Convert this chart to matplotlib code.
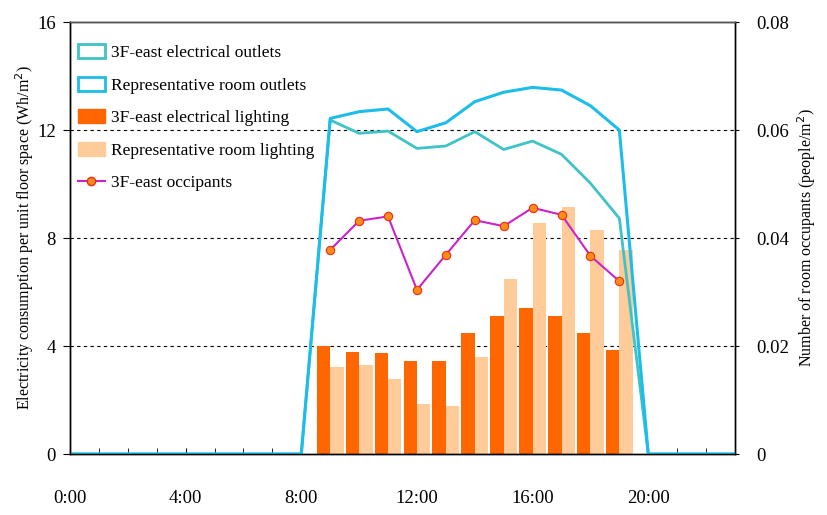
import numpy as np
import matplotlib.pyplot as plt
from matplotlib.patches import Patch
from matplotlib.lines import Line2D

plt.rcParams['font.family'] = ['Liberation Serif', 'DejaVu Serif']

# === Datos ===
horas = np.arange(24)                      # 0:00 .. 23:00
horas_ocup = np.arange(9, 20)              # 9:00 .. 19:00

enchufes_3f = [0, 0, 0, 0, 0, 0, 0, 0, 0, 12.37, 11.88, 11.96, 11.32, 11.41,
               11.94, 11.28, 11.59, 11.10, 10.03, 8.73, 0, 0, 0, 0]
enchufes_rep = [0, 0, 0, 0, 0, 0, 0, 0, 0, 12.43, 12.68, 12.78, 11.94, 12.27,
                13.05, 13.40, 13.58, 13.48, 12.90, 12.00, 0, 0, 0, 0]
luz_3f = [4.00, 3.78, 3.73, 3.44, 3.44, 4.49, 5.11, 5.41, 5.11, 4.49, 3.85]
luz_rep = [3.23, 3.30, 2.78, 1.85, 1.78, 3.60, 6.48, 8.56, 9.15, 8.30, 7.56]
ocupantes = [0.0378, 0.0432, 0.0440, 0.0304, 0.0369, 0.0433, 0.0422, 0.0456,
             0.0443, 0.0367, 0.0320]

etiquetas_x = ['0:00', '4:00', '8:00', '12:00', '16:00', '20:00']

c_3f = '#3EC3C6'
c_rep = '#1DBDE9'
c_naranja = '#FF6600'
c_melocoton = '#FFCC99'
c_ocup = '#CC22CC'

fig = plt.figure(figsize=(8.28, 5.15), dpi=100)
ax = fig.add_axes([0.0845, 0.1184, 0.8032, 0.8388])
ax2 = ax.twinx()

# barras (naranja a la izquierda de la hora, melocoton a la derecha)
ancho = 0.465
ax.bar(horas_ocup - ancho, luz_3f, width=ancho, align='edge', color=c_naranja, zorder=2)
ax.bar(horas_ocup, luz_rep, width=ancho, align='edge', color=c_melocoton, zorder=2)

ax.plot(horas, enchufes_3f, color=c_3f, lw=2.0, zorder=3)
ax.plot(horas, enchufes_rep, color=c_rep, lw=2.2, zorder=3)

ax2.plot(horas_ocup, ocupantes, color=c_ocup, lw=1.5, marker='o', markersize=6,
         markerfacecolor='#FF8C1A', markeredgecolor='#E83010', markeredgewidth=0.8)

ax.set_xlim(0, 23)
ax.set_ylim(0, 16)
ax2.set_ylim(0, 0.08)

ax.set_yticks([0, 4, 8, 12, 16])
ax.set_yticklabels(['0', '4', '8', '12', '16'], fontsize=13.5)
ax2.set_yticks([0, 0.02, 0.04, 0.06, 0.08])
ax2.set_yticklabels(['0', '0.02', '0.04', '0.06', '0.08'], fontsize=13.5)

ax.set_xticks([0, 4, 8, 12, 16, 20])
ax.set_xticklabels(etiquetas_x, fontsize=13.5)
ax.set_xticks(horas, minor=True)
ax.tick_params(axis='x', which='both', direction='in', length=4, pad=26)
ax.tick_params(axis='y', direction='out', length=5, pad=5)
ax2.tick_params(axis='y', direction='out', length=3, pad=12)

for yv in [4, 8, 12]:
    ax.axhline(yv, color='black', lw=0.8, ls=(0, (3, 3)), zorder=1)

for a in (ax, ax2):
    for s in a.spines.values():
        s.set_linewidth(1.0)
ax2.spines['top'].set_color('#555555')

ax.set_ylabel('Electricity consumption per unit floor space (Wh/m$^2$)', fontsize=11.5, labelpad=1)
ax2.set_ylabel('Number of room occupants (people/m$^2$)', fontsize=11.5, labelpad=5)

handles = [
    Patch(facecolor='white', edgecolor=c_3f, lw=2),
    Patch(facecolor='white', edgecolor=c_rep, lw=2),
    Patch(facecolor=c_naranja, edgecolor=c_naranja),
    Patch(facecolor=c_melocoton, edgecolor=c_melocoton),
    Line2D([], [], color=c_ocup, lw=1.5, marker='o', markersize=6,
           markerfacecolor='#FF8C1A', markeredgecolor='#E83010'),
]
nombres = ['3F-east electrical outlets', 'Representative room outlets',
           '3F-east electrical lighting', 'Representative room lighting',
           '3F-east occipants']
ax2.legend(handles, nombres, loc='upper left', bbox_to_anchor=(-0.012, 0.985),
           frameon=False, fontsize=12.5, handlelength=1.55, handleheight=0.85,
           labelspacing=0.9, handletextpad=0.35)

fig.savefig('out.png', dpi=100)
